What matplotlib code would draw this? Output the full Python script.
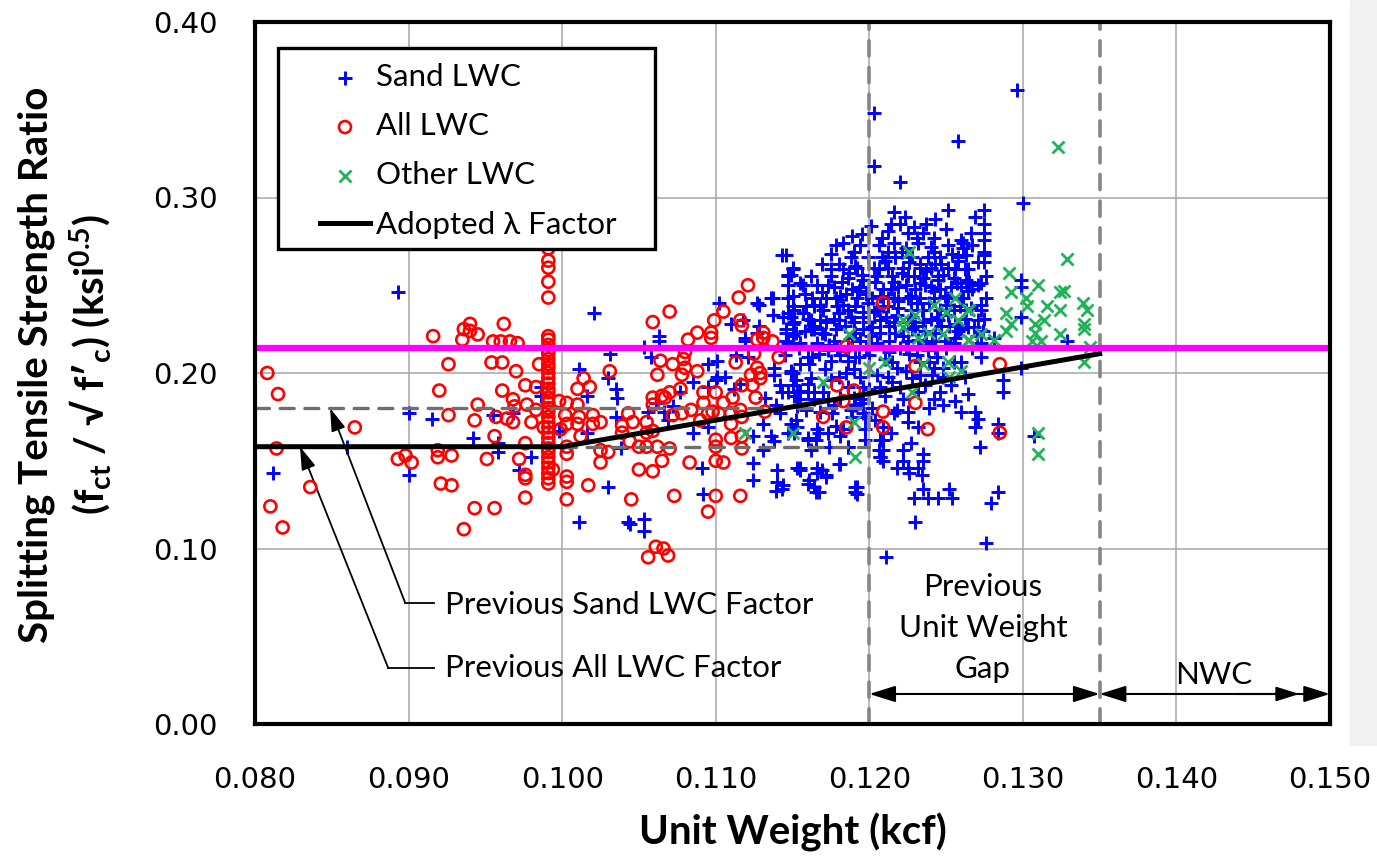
import matplotlib
matplotlib.use("Agg")
import matplotlib.pyplot as plt
from matplotlib.patches import Rectangle, ArrowStyle

plt.rcParams['font.family'] = ['Lato', 'DejaVu Sans']
plt.rcParams['mathtext.fontset'] = 'custom'
plt.rcParams['mathtext.rm'] = 'Lato:bold'
plt.rcParams['mathtext.it'] = 'Lato:bold'
plt.rcParams['mathtext.bf'] = 'Lato:bold'

# ---- data (unit weight kcf, ratio ksi^0.5) ----
sand_lwc = [
    (0.0893, 0.246), (0.0900, 0.177), (0.0915, 0.174), (0.0812, 0.143), (0.0900, 0.142), (0.0860, 0.158),
    (0.0942, 0.163), (0.0955, 0.176), (0.0958, 0.155), (0.0968, 0.177), (0.0972, 0.145), (0.0980, 0.152),
    (0.0986, 0.192), (0.0986, 0.187), (0.0998, 0.167), (0.1011, 0.202), (0.1011, 0.115), (0.1021, 0.234),
    (0.1016, 0.187), (0.1016, 0.166), (0.0958, 0.160), (0.1043, 0.115),
    (0.1031, 0.211), (0.1030, 0.197), (0.1035, 0.191), (0.1036, 0.186), (0.1035, 0.175), (0.1038, 0.157),
    (0.1030, 0.135), (0.1053, 0.117), (0.1044, 0.114), (0.1053, 0.110), (0.1063, 0.221), (0.1063, 0.218),
    (0.1058, 0.209), (0.1053, 0.215), (0.1056, 0.178), (0.1061, 0.183), (0.1066, 0.178), (0.1069, 0.173),
    (0.1072, 0.181), (0.1077, 0.189), (0.1085, 0.195), (0.1085, 0.166), (0.1091, 0.146), (0.1092, 0.131),
    (0.1095, 0.205), (0.1095, 0.192), (0.1095, 0.169), (0.1100, 0.196), (0.1101, 0.207), (0.1102, 0.240),
    (0.1101, 0.198), (0.1106, 0.198), (0.1110, 0.228), (0.1113, 0.210), (0.1112, 0.191), (0.1118, 0.230),
    (0.1119, 0.220), (0.1119, 0.218), (0.1121, 0.209), (0.1116, 0.194), (0.1127, 0.240), (0.1128, 0.239),
    (0.1137, 0.243), (0.1137, 0.233), (0.1128, 0.227), (0.1127, 0.223), (0.1124, 0.164), (0.1124, 0.149),
    (0.1124, 0.139), (0.1131, 0.171), (0.1131, 0.156), (0.1136, 0.164), (0.1138, 0.161), (0.1140, 0.145),
    (0.1140, 0.138), (0.1143, 0.134), (0.1139, 0.133), (0.1132, 0.186), (0.1138, 0.203), (0.1139, 0.182),
    (0.1143, 0.189), (0.1147, 0.234), (0.1150, 0.228), (0.1146, 0.223), (0.1150, 0.221), (0.1147, 0.217),
    (0.1149, 0.201), (0.1150, 0.193), (0.1153, 0.189), (0.1149, 0.256), (0.1150, 0.260), (0.1147, 0.250),
    (0.1150, 0.244), (0.1153, 0.146), (0.1149, 0.171), (0.1147, 0.166),
    (0.1155, 0.145), (0.1160, 0.137), (0.1166, 0.146), (0.1166, 0.143), (0.1165, 0.132), (0.1161, 0.139),
    (0.1172, 0.141), (0.1180, 0.148), (0.1191, 0.135), (0.1191, 0.132), (0.1207, 0.152), (0.1211, 0.095),
    (0.1186, 0.158), (0.1181, 0.164), (0.1173, 0.166), (0.1166, 0.168), (0.1160, 0.162), (0.1153, 0.169),
    (0.1142, 0.177), (0.1151, 0.187), (0.1155, 0.190), (0.1160, 0.189), (0.1142, 0.193), (0.1138, 0.199),
    (0.1149, 0.200), (0.1155, 0.205), (0.1161, 0.205), (0.1163, 0.209), (0.1167, 0.211), (0.1173, 0.213),
    (0.1179, 0.215), (0.1186, 0.207), (0.1190, 0.202), (0.1194, 0.198), (0.1196, 0.192), (0.1196, 0.185),
    (0.1196, 0.177), (0.1207, 0.162), (0.1209, 0.156), (0.1209, 0.169), (0.1194, 0.183), (0.1190, 0.186),
    (0.1186, 0.192), (0.1181, 0.186), (0.1177, 0.182), (0.1176, 0.177), (0.1170, 0.189), (0.1164, 0.185),
    (0.1159, 0.179), (0.1153, 0.181), (0.1164, 0.225), (0.1164, 0.227), (0.1160, 0.231), (0.1159, 0.238),
    (0.1164, 0.239), (0.1151, 0.236), (0.1149, 0.232), (0.1155, 0.251), (0.1147, 0.256), (0.1143, 0.267),
    (0.1136, 0.243),
    (0.1220, 0.309), (0.1216, 0.292), (0.1251, 0.293), (0.1275, 0.293), (0.1237, 0.285), (0.1243, 0.288),
    (0.1220, 0.285), (0.1269, 0.289), (0.1275, 0.285), (0.1212, 0.281), (0.1225, 0.280), (0.1235, 0.280),
    (0.1275, 0.280), (0.1266, 0.280), (0.1275, 0.276), (0.1260, 0.276), (0.1183, 0.274), (0.1194, 0.273),
    (0.1206, 0.273), (0.1216, 0.274), (0.1232, 0.274), (0.1251, 0.273), (0.1261, 0.271), (0.1267, 0.273),
    (0.1275, 0.269), (0.1190, 0.269), (0.1212, 0.269), (0.1221, 0.269), (0.1242, 0.269), (0.1188, 0.266),
    (0.1199, 0.266), (0.1208, 0.266), (0.1217, 0.266), (0.1228, 0.266), (0.1238, 0.266), (0.1246, 0.266),
    (0.1258, 0.264), (0.1275, 0.263), (0.1271, 0.263), (0.1146, 0.267), (0.1175, 0.259), (0.1183, 0.259),
    (0.1192, 0.260), (0.1203, 0.260), (0.1212, 0.260), (0.1222, 0.260), (0.1233, 0.260), (0.1240, 0.260),
    (0.1251, 0.260), (0.1264, 0.259), (0.1150, 0.259), (0.1147, 0.255), (0.1157, 0.250), (0.1175, 0.255),
    (0.1186, 0.254), (0.1196, 0.253), (0.1205, 0.255), (0.1215, 0.255), (0.1225, 0.255), (0.1235, 0.254),
    (0.1245, 0.255), (0.1255, 0.254), (0.1263, 0.253), (0.1271, 0.250), (0.1276, 0.255), (0.1147, 0.250),
    (0.1166, 0.250), (0.1177, 0.249), (0.1189, 0.248), (0.1194, 0.249), (0.1209, 0.248), (0.1219, 0.249),
    (0.1230, 0.248), (0.1240, 0.249), (0.1246, 0.248), (0.1260, 0.249), (0.1267, 0.248), (0.1147, 0.243),
    (0.1163, 0.243), (0.1172, 0.243), (0.1181, 0.244), (0.1192, 0.243), (0.1202, 0.243), (0.1216, 0.243),
    (0.1225, 0.243), (0.1233, 0.243), (0.1242, 0.243), (0.1251, 0.243), (0.1261, 0.243), (0.1276, 0.243),
    (0.1150, 0.238), (0.1157, 0.234), (0.1164, 0.238), (0.1170, 0.236), (0.1179, 0.238), (0.1186, 0.236),
    (0.1191, 0.238), (0.1196, 0.235), (0.1205, 0.236), (0.1212, 0.238), (0.1219, 0.237), (0.1227, 0.236),
    (0.1235, 0.236), (0.1246, 0.236), (0.1255, 0.236), (0.1266, 0.237), (0.1273, 0.236), (0.1144, 0.232),
    (0.1151, 0.229), (0.1162, 0.230), (0.1172, 0.229), (0.1180, 0.230), (0.1190, 0.229), (0.1200, 0.229),
    (0.1207, 0.230), (0.1216, 0.229), (0.1225, 0.229), (0.1235, 0.229), (0.1245, 0.230), (0.1256, 0.228),
    (0.1271, 0.230), (0.1146, 0.225), (0.1152, 0.223), (0.1162, 0.225), (0.1169, 0.223), (0.1178, 0.225),
    (0.1191, 0.223), (0.1196, 0.225), (0.1207, 0.223), (0.1217, 0.223), (0.1228, 0.225), (0.1243, 0.223),
    (0.1260, 0.225), (0.1146, 0.218), (0.1155, 0.217), (0.1166, 0.217), (0.1177, 0.218), (0.1194, 0.218),
    (0.1213, 0.218), (0.1225, 0.218), (0.1241, 0.218), (0.1255, 0.217), (0.1273, 0.217), (0.1160, 0.209),
    (0.1175, 0.207), (0.1191, 0.209), (0.1215, 0.206), (0.1239, 0.206), (0.1255, 0.206), (0.1273, 0.209),
    (0.1300, 0.297),
    (0.1203, 0.348), (0.1203, 0.318), (0.1258, 0.332), (0.1296, 0.361),
    (0.1150, 0.200), (0.1147, 0.189), (0.1152, 0.173), (0.1144, 0.136), (0.1155, 0.146), (0.1164, 0.135),
    (0.1167, 0.132), (0.1169, 0.145), (0.1172, 0.142), (0.1181, 0.148), (0.1160, 0.163), (0.1165, 0.162),
    (0.1162, 0.156), (0.1186, 0.158), (0.1192, 0.135), (0.1192, 0.131), (0.1197, 0.168), (0.1197, 0.162),
    (0.1204, 0.173), (0.1206, 0.156), (0.1207, 0.152), (0.1209, 0.162), (0.1209, 0.150), (0.1216, 0.177),
    (0.1218, 0.146), (0.1222, 0.156), (0.1222, 0.150), (0.1225, 0.146), (0.1226, 0.143), (0.1227, 0.160),
    (0.1225, 0.172), (0.1232, 0.169), (0.1232, 0.146), (0.1234, 0.142), (0.1235, 0.154), (0.1235, 0.150),
    (0.1229, 0.129), (0.1235, 0.134), (0.1238, 0.129), (0.1245, 0.129), (0.1252, 0.134), (0.1254, 0.129),
    (0.1230, 0.115), (0.1242, 0.185), (0.1246, 0.189), (0.1248, 0.182), (0.1260, 0.178), (0.1269, 0.178),
    (0.1271, 0.174), (0.1269, 0.169), (0.1272, 0.158), (0.1284, 0.171), (0.1284, 0.132), (0.1279, 0.126),
    (0.1276, 0.103), (0.1232, 0.189), (0.1233, 0.199), (0.1241, 0.199), (0.1248, 0.198), (0.1218, 0.179),
    (0.1225, 0.178), (0.1207, 0.192), (0.1212, 0.198), (0.1224, 0.201), (0.1242, 0.203), (0.1260, 0.206),
    (0.1287, 0.196), (0.1287, 0.189), (0.1299, 0.203), (0.1185, 0.200), (0.1175, 0.196), (0.1160, 0.194),
    (0.1164, 0.189), (0.1155, 0.185), (0.1173, 0.185), (0.1181, 0.186), (0.1189, 0.175), (0.1178, 0.170),
    (0.1197, 0.175), (0.1191, 0.182), (0.1183, 0.168), (0.1167, 0.166), (0.1151, 0.166),
    (0.1261, 0.274), (0.1275, 0.267), (0.1262, 0.259), (0.1265, 0.252), (0.1264, 0.247), (0.1273, 0.251),
    (0.1273, 0.239), (0.1275, 0.231), (0.1264, 0.226), (0.1268, 0.226), (0.1274, 0.224), (0.1281, 0.220),
    (0.1299, 0.253), (0.1299, 0.249), (0.1299, 0.232), (0.1329, 0.218), (0.1284, 0.166), (0.1307, 0.164),
    (0.1180, 0.262), (0.1187, 0.257), (0.1193, 0.247), (0.1199, 0.240), (0.1204, 0.252), (0.1210, 0.264),
    (0.1214, 0.248), (0.1218, 0.233), (0.1221, 0.257), (0.1224, 0.271), (0.1227, 0.244), (0.1230, 0.227),
    (0.1233, 0.262), (0.1236, 0.250), (0.1239, 0.240), (0.1242, 0.277), (0.1244, 0.232), (0.1247, 0.262),
    (0.1249, 0.244), (0.1252, 0.227), (0.1254, 0.268), (0.1257, 0.251), (0.1259, 0.238), (0.1262, 0.231),
    (0.1196, 0.232), (0.1201, 0.221), (0.1207, 0.244), (0.1211, 0.232), (0.1213, 0.212), (0.1220, 0.214),
    (0.1226, 0.211), (0.1232, 0.219), (0.1238, 0.213), (0.1244, 0.209), (0.1250, 0.214), (0.1256, 0.220),
    (0.1183, 0.239), (0.1177, 0.231), (0.1171, 0.222), (0.1169, 0.246), (0.1175, 0.268), (0.1189, 0.278),
    (0.1201, 0.284), (0.1208, 0.277), (0.1223, 0.289), (0.1229, 0.283), (0.1240, 0.272), (0.1186, 0.215),
    (0.1193, 0.209), (0.1158, 0.224), (0.1154, 0.214), (0.1162, 0.197), (0.1171, 0.202), (0.1180, 0.198),
    (0.1200, 0.210), (0.1205, 0.199), (0.1215, 0.195), (0.1228, 0.197), (0.1233, 0.206), (0.1248, 0.203),
    (0.1253, 0.193), (0.1262, 0.198), (0.1267, 0.214), (0.1270, 0.221), (0.1264, 0.188), (0.1256, 0.184),
    (0.1239, 0.180), (0.1222, 0.185), (0.1210, 0.187), (0.1200, 0.191), (0.1212, 0.243), (0.1234, 0.236),
    (0.1245, 0.253), (0.1203, 0.235), (0.1191, 0.261), (0.1217, 0.266), (0.1229, 0.255), (0.1250, 0.239),
    (0.1258, 0.266),
    (0.1182, 0.252), (0.1185, 0.245), (0.1188, 0.232), (0.1195, 0.256), (0.1198, 0.245), (0.1202, 0.226),
    (0.1206, 0.259), (0.1209, 0.238), (0.1213, 0.227), (0.1216, 0.252), (0.1219, 0.241), (0.1222, 0.221),
    (0.1224, 0.250), (0.1226, 0.263), (0.1228, 0.232), (0.1231, 0.240), (0.1233, 0.251), (0.1236, 0.224),
    (0.1237, 0.258), (0.1240, 0.231), (0.1242, 0.247), (0.1243, 0.262), (0.1247, 0.227), (0.1248, 0.256),
    (0.1251, 0.233), (0.1253, 0.249), (0.1256, 0.259), (0.1258, 0.224), (0.1260, 0.243), (0.1263, 0.236),
    (0.1168, 0.238), (0.1173, 0.250), (0.1178, 0.243), (0.1180, 0.234), (0.1184, 0.227), (0.1168, 0.230),
    (0.1174, 0.216), (0.1181, 0.210), (0.1189, 0.220), (0.1198, 0.214), (0.1205, 0.217), (0.1210, 0.208),
    (0.1218, 0.203), (0.1224, 0.215), (0.1231, 0.210), (0.1237, 0.217), (0.1243, 0.214), (0.1249, 0.218),
    (0.1158, 0.245), (0.1162, 0.255), (0.1169, 0.262), (0.1178, 0.273), (0.1195, 0.279), (0.1214, 0.285),
    (0.1231, 0.277), (0.1250, 0.282), (0.1263, 0.267), (0.1145, 0.210), (0.1152, 0.196), (0.1168, 0.178),
    (0.1174, 0.158), (0.1188, 0.179), (0.1202, 0.180), (0.1214, 0.166), (0.1220, 0.192), (0.1236, 0.193),
]

all_lwc = [
    (0.0808, 0.200), (0.0815, 0.188), (0.0814, 0.157), (0.0810, 0.124), (0.0818, 0.112), (0.0836, 0.135),
    (0.0865, 0.169), (0.0893, 0.151), (0.0898, 0.153), (0.0902, 0.149), (0.0916, 0.221), (0.0920, 0.190),
    (0.0926, 0.205), (0.0926, 0.176), (0.0919, 0.156), (0.0919, 0.152), (0.0928, 0.153), (0.0921, 0.137),
    (0.0928, 0.136), (0.0936, 0.111), (0.0940, 0.228), (0.0936, 0.225), (0.0940, 0.224), (0.0945, 0.222),
    (0.0935, 0.219), (0.0945, 0.182), (0.0943, 0.173), (0.0951, 0.151), (0.0943, 0.123), (0.0956, 0.123),
    (0.0962, 0.228), (0.0955, 0.218), (0.0960, 0.218), (0.0966, 0.218), (0.0971, 0.217), (0.0954, 0.206),
    (0.0961, 0.206), (0.0970, 0.201), (0.0961, 0.190), (0.0976, 0.193), (0.0983, 0.192), (0.0968, 0.185),
    (0.0969, 0.181), (0.0977, 0.182), (0.0983, 0.179), (0.0957, 0.175), (0.0964, 0.174), (0.0968, 0.172),
    (0.0980, 0.172), (0.0956, 0.164), (0.0976, 0.160), (0.0972, 0.151), (0.0976, 0.142), (0.0976, 0.140),
    (0.0976, 0.129), (0.0985, 0.205), (0.0988, 0.169),
    (0.0991, 0.271), (0.0991, 0.264), (0.0991, 0.260), (0.0991, 0.252), (0.0991, 0.243), (0.0991, 0.221),
    (0.0991, 0.219), (0.0991, 0.216), (0.0991, 0.213), (0.0991, 0.211), (0.0991, 0.208), (0.0991, 0.205),
    (0.0991, 0.203), (0.0991, 0.200), (0.0991, 0.197), (0.0991, 0.194), (0.0991, 0.191), (0.0991, 0.189),
    (0.0991, 0.186), (0.0991, 0.183), (0.0991, 0.180), (0.0991, 0.178), (0.0991, 0.175), (0.0991, 0.172),
    (0.0991, 0.169), (0.0991, 0.166), (0.0991, 0.163), (0.0991, 0.160), (0.0991, 0.157), (0.0991, 0.155),
    (0.0991, 0.152), (0.0991, 0.149), (0.0991, 0.146), (0.0991, 0.143), (0.0991, 0.140), (0.0991, 0.137),
    (0.0998, 0.184), (0.1003, 0.183), (0.1010, 0.182), (0.1002, 0.176), (0.1003, 0.171), (0.1011, 0.175),
    (0.1010, 0.171), (0.1012, 0.164), (0.1020, 0.176), (0.1020, 0.171), (0.1003, 0.158), (0.1003, 0.154),
    (0.1003, 0.141), (0.1003, 0.138), (0.1003, 0.128), (0.1014, 0.197), (0.1010, 0.191), (0.1018, 0.192),
    (0.1017, 0.136), (0.0994, 0.145), (0.0999, 0.168),
    (0.1031, 0.201), (0.1025, 0.172), (0.1025, 0.156), (0.1030, 0.155), (0.1025, 0.149), (0.1039, 0.170),
    (0.1039, 0.166), (0.1043, 0.177), (0.1046, 0.172), (0.1044, 0.161), (0.1050, 0.158), (0.1055, 0.172),
    (0.1055, 0.166), (0.1059, 0.167), (0.1055, 0.158), (0.1050, 0.145), (0.1059, 0.144), (0.1062, 0.158),
    (0.1045, 0.128), (0.1059, 0.186), (0.1059, 0.182), (0.1065, 0.187), (0.1067, 0.186), (0.1070, 0.189),
    (0.1077, 0.191), (0.1072, 0.176), (0.1078, 0.177), (0.1070, 0.157), (0.1065, 0.150), (0.1062, 0.199),
    (0.1064, 0.207), (0.1072, 0.205), (0.1078, 0.199), (0.1080, 0.203), (0.1079, 0.208), (0.1080, 0.212),
    (0.1082, 0.219), (0.1088, 0.223), (0.1059, 0.229), (0.1070, 0.235), (0.1088, 0.201), (0.1084, 0.179),
    (0.1083, 0.149), (0.1073, 0.130), (0.1061, 0.101), (0.1066, 0.100), (0.1069, 0.096), (0.1056, 0.095),
    (0.1092, 0.189), (0.1092, 0.183), (0.1090, 0.173), (0.1095, 0.177), (0.1098, 0.178), (0.1102, 0.177),
    (0.1100, 0.189), (0.1105, 0.183), (0.1111, 0.186), (0.1097, 0.223), (0.1097, 0.220), (0.1099, 0.230),
    (0.1105, 0.235), (0.1115, 0.243), (0.1121, 0.250), (0.1116, 0.230), (0.1117, 0.227), (0.1100, 0.162),
    (0.1100, 0.158), (0.1100, 0.150), (0.1105, 0.149), (0.1100, 0.130), (0.1095, 0.121), (0.1110, 0.177),
    (0.1110, 0.171), (0.1110, 0.163), (0.1116, 0.179), (0.1117, 0.175), (0.1117, 0.164), (0.1117, 0.157),
    (0.1116, 0.130), (0.1113, 0.206), (0.1117, 0.193), (0.1123, 0.199), (0.1124, 0.193), (0.1127, 0.203),
    (0.1129, 0.200), (0.1129, 0.197), (0.1126, 0.186), (0.1127, 0.219), (0.1131, 0.223), (0.1131, 0.220),
    (0.1137, 0.218), (0.1141, 0.209), (0.1125, 0.211), (0.1132, 0.178),
    (0.1170, 0.175), (0.1179, 0.193), (0.1183, 0.184), (0.1190, 0.190), (0.1185, 0.169), (0.1209, 0.240),
    (0.1209, 0.169), (0.1209, 0.178), (0.1185, 0.215), (0.1230, 0.204), (0.1285, 0.205), (0.1230, 0.183),
    (0.1238, 0.168), (0.1285, 0.166),
]

other_lwc = [
    (0.1291, 0.257), (0.1292, 0.246), (0.1310, 0.250), (0.1289, 0.234), (0.1292, 0.228), (0.1289, 0.224),
    (0.1302, 0.243), (0.1303, 0.238), (0.1316, 0.238), (0.1314, 0.230), (0.1308, 0.228), (0.1308, 0.223),
    (0.1306, 0.218), (0.1312, 0.218), (0.1324, 0.246), (0.1327, 0.247), (0.1324, 0.236), (0.1324, 0.222),
    (0.1329, 0.265), (0.1339, 0.240), (0.1342, 0.236), (0.1340, 0.228), (0.1340, 0.225), (0.1344, 0.215),
    (0.1340, 0.206), (0.1310, 0.166), (0.1310, 0.154), (0.1265, 0.236), (0.1273, 0.222), (0.1264, 0.219),
    (0.1281, 0.219), (0.1323, 0.329),
    (0.1226, 0.269), (0.1222, 0.230), (0.1222, 0.226), (0.1230, 0.233), (0.1232, 0.220), (0.1239, 0.223),
    (0.1242, 0.239), (0.1250, 0.235), (0.1256, 0.243), (0.1258, 0.230), (0.1264, 0.236), (0.1265, 0.219),
    (0.1251, 0.206), (0.1260, 0.201), (0.1252, 0.198), (0.1210, 0.206), (0.1200, 0.203), (0.1228, 0.189),
    (0.1235, 0.205), (0.1248, 0.222), (0.1187, 0.222), (0.1170, 0.195), (0.1150, 0.166), (0.1190, 0.172),
    (0.1191, 0.152), (0.1119, 0.166),
]

# adopted lambda factor and earlier factors
lambda_uw = [0.080, 0.100, 0.135]
lambda_ratio = [0.158, 0.158, 0.211]
prev_sand_uw = [0.080, 0.120]
prev_sand_ratio = [0.180, 0.180]
prev_all_uw = [0.100, 0.120]
prev_all_ratio = [0.158, 0.158]
nwc_ratio = 0.214
gap_bounds = [0.120, 0.135]

x_ticks = [0.080, 0.090, 0.100, 0.110, 0.120, 0.130, 0.140, 0.150]
y_ticks = [0.00, 0.10, 0.20, 0.30, 0.40]

fig = plt.figure(figsize=(13.77, 8.58), dpi=100)
fig.patches.append(Rectangle((1350 / 1377, 1 - 745 / 858), 27 / 1377, 745 / 858,
                             transform=fig.transFigure, color='#f2f2f2', zorder=-10))
ax = fig.add_axes([255 / 1377, 1 - 724 / 858, 1075 / 1377, 702 / 858])

ax.set_xlim(0.080, 0.150)
ax.set_ylim(0.0, 0.40)
ax.set_xticks(x_ticks)
ax.set_yticks(y_ticks)
ax.set_xticklabels([f"{v:.3f}" for v in x_ticks], fontfamily='DejaVu Sans', fontsize=21)
ax.set_yticklabels([f"{v:.2f}" for v in y_ticks], fontfamily='DejaVu Sans', fontsize=21)
ax.tick_params(axis='both', length=0)
ax.tick_params(axis='x', pad=30)
ax.tick_params(axis='y', pad=27)
ax.grid(True, color='#a6a6a6', lw=1.1)
ax.set_axisbelow(True)
for sp in ax.spines.values():
    sp.set_linewidth(3)
    sp.set_zorder(30)

ax_sand = ax.scatter(*zip(*sand_lwc), marker='+', s=95, c='#0000ff', linewidths=2.1, zorder=3,
                     label='Sand LWC')
ax_all = ax.scatter(*zip(*all_lwc), marker='o', s=75, facecolors='none', edgecolors='#ff0000',
                    linewidths=1.9, zorder=4, label='All LWC')
ax_other = ax.scatter(*zip(*other_lwc), marker='x', s=75, c='#22b35a', linewidths=2.0, zorder=5,
                      label='Other LWC')

dash = (0, (4.2, 3.2))
for g in gap_bounds:
    ax.axvline(g, color='#858585', lw=2.6, ls=dash, dash_capstyle='round', zorder=6)
ax.plot(prev_sand_uw, prev_sand_ratio, color='#6e6e6e', lw=2.4, ls=dash, dash_capstyle='round', zorder=6)
ax.plot(prev_all_uw, prev_all_ratio, color='#6e6e6e', lw=2.4, ls=dash, dash_capstyle='round', zorder=6)
ax.axhline(nwc_ratio, color='#ff00ff', lw=4.5, zorder=8)
lam_line, = ax.plot(lambda_uw, lambda_ratio, color='black', lw=3.6, zorder=9, label='Adopted λ Factor')

# leader arrows for the earlier factors
head = ArrowStyle('-|>', head_length=0.7, head_width=0.22)
ax.annotate('', xy=(0.08489, 0.180), xytext=(0.08978, 0.069),
            arrowprops=dict(arrowstyle=head, color='black', lw=1.3, mutation_scale=20, shrinkA=0, shrinkB=0))
ax.plot([0.08978, 0.09167], [0.069, 0.069], color='black', lw=1.3)
ax.annotate('', xy=(0.08293, 0.158), xytext=(0.08867, 0.032),
            arrowprops=dict(arrowstyle=head, color='black', lw=1.3, mutation_scale=20, shrinkA=0, shrinkB=0))
ax.plot([0.08867, 0.09167], [0.032, 0.032], color='black', lw=1.3)
ax.text(0.0924, 0.068, 'Previous Sand LWC Factor', fontsize=22.5, va='center', ha='left')
ax.text(0.0924, 0.032, 'Previous All LWC Factor', fontsize=22.5, va='center', ha='left')

# region arrows
both = ArrowStyle('<|-|>', head_length=0.8, head_width=0.25)
ax.annotate('', xy=(0.120, 0.0171), xytext=(0.135, 0.0171),
            arrowprops=dict(arrowstyle=both, color='black', lw=1.5, mutation_scale=20, shrinkA=0, shrinkB=0))
ax.annotate('', xy=(0.135, 0.0171), xytext=(0.150, 0.0171),
            arrowprops=dict(arrowstyle=both, color='black', lw=1.5, mutation_scale=20, shrinkA=0, shrinkB=0))
ax.annotate('', xy=(0.1480, 0.0171), xytext=(0.1440, 0.0171),
            arrowprops=dict(arrowstyle=head, color='black', lw=1.5, mutation_scale=20, shrinkA=0, shrinkB=0))
ax.text(0.1274, 0.0547, 'Previous\nUnit Weight\nGap', fontsize=22.5, ha='center', va='center',
        linespacing=1.55)
ax.text(0.14245, 0.028, 'NWC', fontsize=22.5, ha='center', va='center')

# legend with a square black frame
ax.add_patch(Rectangle((0.0214, 0.6766), 0.3507, 0.2864, transform=ax.transAxes,
                       facecolor='white', edgecolor='black', lw=2.4, zorder=20))
leg = ax.legend(handles=[ax_sand, ax_all, ax_other, lam_line], loc='upper left',
                bbox_to_anchor=((320 - 255) / 1075, (724 - 63) / 702), frameon=False,
                fontsize=22.5, borderpad=0, borderaxespad=0, handlelength=1.6,
                handletextpad=0.2, labelspacing=0.68, scatterpoints=1)
leg.set_zorder(21)

ax.set_xlabel('Unit Weight (kcf)', fontsize=29, fontweight='bold', labelpad=14)
fig.text(36 / 1377, 1 - 365 / 858, 'Splitting Tensile Strength Ratio', rotation=90,
         fontsize=29, fontweight='bold', ha='center', va='center')
fig.text(91 / 1377, 1 - 365 / 858, r"(f$_{\mathrm{ct}}$ / √ f′$_{\mathrm{c}}$) (ksi$^{\mathrm{0.5}}$)",
         rotation=90, fontsize=29, fontweight='bold', ha='center', va='center')

fig.savefig('out.png', dpi=100)
